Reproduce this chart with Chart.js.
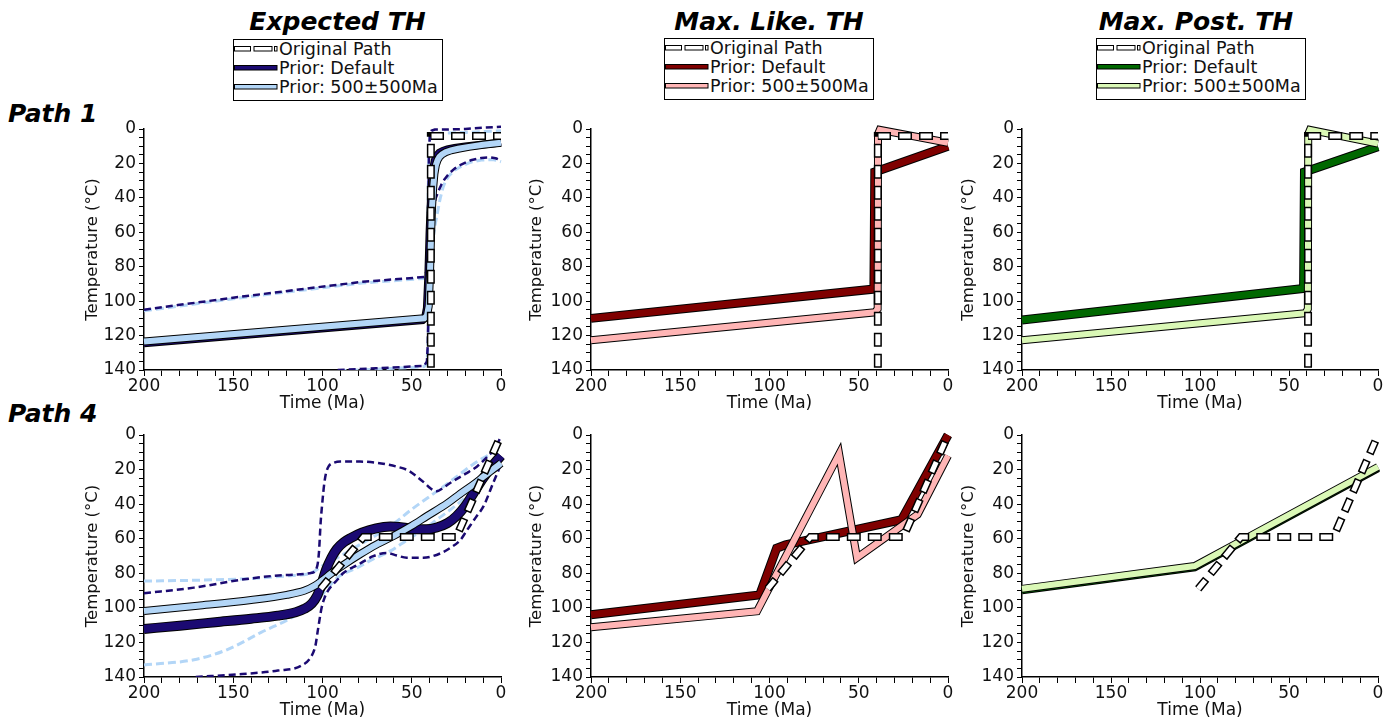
<!DOCTYPE html>
<html><head><meta charset="utf-8">
<script src="https://cdn.jsdelivr.net/npm/chart.js@4.4.1/dist/chart.umd.min.js"></script>
<style>
html,body{margin:0;padding:0;background:#fff;width:1398px;height:722px;overflow:hidden;font-family:'DejaVu Sans',sans-serif;}
.ttl{position:absolute;font:italic bold 25px 'DejaVu Sans';line-height:30px;white-space:nowrap;color:#000;text-align:center;width:400px;}
.rowlab{position:absolute;font:italic bold 25px 'DejaVu Sans';line-height:30px;white-space:nowrap;color:#000;}
.legend{position:absolute;border:1px solid #000;padding:0 4px 3px 0;background:#fff;font:17.5px 'DejaVu Sans';line-height:19px;color:#111;}
.legend .r{height:19px;white-space:nowrap;}
.legend svg{display:inline-block;vertical-align:top;}
.legend span{vertical-align:top;}
canvas{position:absolute;}
</style></head>
<body>
<div class="ttl" style="left:137.5px;top:7px">Expected TH</div>
<div class="ttl" style="left:569px;top:7px">Max. Like. TH</div>
<div class="ttl" style="left:996px;top:7px">Max. Post. TH</div>
<div class="rowlab" style="left:8px;top:99px">Path 1</div>
<div class="rowlab" style="left:8px;top:399px">Path 4</div>
<div id="leg0" class="legend" style="left:233px;top:39px"></div>
<div id="leg1" class="legend" style="left:664px;top:38px"></div>
<div id="leg2" class="legend" style="left:1096px;top:38px"></div>
<canvas id="c00"></canvas><canvas id="c01"></canvas><canvas id="c02"></canvas>
<canvas id="c10"></canvas><canvas id="c11"></canvas><canvas id="c12"></canvas>
<script>
// ---------- tick labels ----------
const timeLabels = [200, 150, 100, 50, 0];
const tempLabels = [0, 20, 40, 60, 80, 100, 120, 140];
const legendLabels = ['Original Path', 'Prior: Default', 'Prior: 500\u00b1500Ma'];

// ---------- Path 1 : original ----------
const p1OrigT = [39.3, 39.3, 0];
const p1OrigC = [150, 4, 4];

// Path 1, Expected TH
const e1DefT = [200, 44, 42.5, 41.5, 40.7, 40, 39.3, 38.6, 37.8, 37, 36, 34.5, 32.5, 30, 26, 20, 10, 0];
const e1DefC = [124.5, 111, 109.5, 104, 85, 60, 42, 30, 22, 18, 15.5, 13.8, 12.7, 11.8, 11, 10.2, 9, 7.8];
const e1WideT = [200, 43, 41.5, 40.5, 39.8, 39.2, 38.6, 38, 37.3, 36.5, 35.5, 34.5, 33, 31, 28, 24, 18, 10, 0];
const e1WideC = [123.5, 110, 108.5, 103, 85, 62, 45, 34, 26, 21, 18, 16.2, 14.7, 13.5, 12.4, 11.5, 10.4, 9.2, 8];
const e1DefHiT = [200, 181, 153, 116, 78, 43, 41.8, 41.2, 40.7, 40.3, 39.8, 39, 37, 30, 20, 10, 0];
const e1DefHiC = [105, 102.3, 98.4, 93.6, 88.8, 86, 83, 70, 40, 12, 3, 1, 0.3, 0.3, 0, -0.8, -1.3];
const e1WideHiT = [200, 181, 153, 116, 78, 43, 41.8, 41.2, 40.8, 40.4, 39.8, 39, 35, 20, 10, 0];
const e1WideHiC = [105.6, 103, 99, 94.2, 89.5, 86.8, 84, 70, 40, 12, 4, 3, 2.5, 2, 1.5, 1];
const e1DefLoT = [91.5, 70, 50, 43, 41.5, 41, 40.6, 40.2, 39.6, 38.8, 37.8, 36.5, 35, 33.5, 31.5, 29, 26, 22, 17, 11, 6, 3, 0];
const e1DefLoC = [140, 139, 138, 137.5, 135, 125, 100, 80, 63, 52, 45, 40, 36, 32.5, 29, 25.8, 23, 20.5, 18.2, 16.8, 16.5, 17, 18.3];
const e1WideLoT = [91, 70, 50, 43, 41.5, 40.9, 40.4, 39.9, 39.2, 38.3, 37, 35.5, 34, 32.5, 31, 29, 26, 22, 17, 11, 5, 2, 0];
const e1WideLoC = [140.5, 139.5, 138.5, 138, 136, 125, 100, 85, 73, 65, 56, 48, 40, 34, 30, 27, 24, 21.5, 19.3, 18, 17.8, 18.3, 19];

// Path 1, Max. Like. TH
const l1DefT = [200, 41.5, 41, 0];
const l1DefC = [110, 93, 25, 10];
const l1WideT = [200, 41, 39.4, 39.2, 38.2, 0];
const l1WideC = [122.7, 106.5, 104.5, 3, 0.5, 8];

// Path 1, Max. Post. TH
const m1DefT = [200, 41.8, 41.3, 0];
const m1DefC = [111, 92.6, 25, 10.3];
const m1WideT = [200, 40.8, 39.4, 39.2, 38.2, 0];
const m1WideC = [122.7, 107, 104.5, 3, 0.5, 8.5];

// ---------- Path 4 : original ----------
const p4OrigT = [101, 77, 25, 0];
const p4OrigC = [89, 59, 59, 0];

// Path 4, Expected TH
const e4DefT = [200, 180, 160, 140, 125, 115, 110, 106, 103, 100.5, 98, 95, 92, 88, 84, 78, 70, 62, 55, 48, 42, 36, 30, 25, 20, 15, 10, 5, 0];
const e4DefC = [112.2, 110.3, 108.3, 106.3, 104.5, 102.5, 100.5, 97.5, 93, 86, 78, 71, 66, 62, 59.5, 56.5, 54, 53, 53.5, 54.5, 54.5, 53.5, 51, 47, 41, 33, 25, 18, 12];
const e4WideT = [200, 170, 140, 120, 110, 104, 100, 95, 88, 79, 70, 60, 50, 41.6, 30, 22.8, 15, 9.7, 4, 0];
const e4WideC = [101.8, 98.8, 95.5, 92.5, 90, 87, 84, 80, 75, 69, 63.5, 58.3, 52.5, 47, 39.5, 34, 28.3, 24, 19.5, 16.3];
const e4DefHiT = [200, 172, 144, 120, 106, 103, 102, 101, 100, 99, 98, 96.5, 94, 90, 79, 70, 64, 58.4, 52, 47.2, 42, 39.7, 36, 33, 28.5, 20, 13.4, 8, 4.1, 0];
const e4DefHiC = [91.5, 88.3, 83.5, 81, 79.7, 76, 68, 50, 38, 28, 22, 18, 16.2, 15.4, 15.4, 16, 17, 18.3, 20.5, 24, 28.5, 30.7, 32.6, 31, 27.8, 22.5, 18.2, 13, 8.6, 1];
const e4WideHiT = [200, 170, 140, 120, 106, 100.6, 90, 80, 70, 62, 50, 36, 24.7, 15, 6, 0];
const e4WideHiC = [84.5, 84, 83, 81.5, 79.7, 76, 70, 64, 58, 52.8, 43, 32.6, 24, 16.5, 11, 7.7];
const e4DefLoT = [171, 145, 125, 112, 106.2, 104, 102.5, 100.5, 98.8, 97.5, 95, 91, 88.5, 80, 71.6, 64, 58.4, 52.8, 43.5, 34, 28, 23, 19, 14, 9.7, 4.1, 0];
const e4DefLoC = [140, 138.3, 136.3, 133.5, 128, 122, 112.3, 100, 94, 91, 87.4, 83, 80, 75, 70.1, 68.2, 69.7, 71, 71, 68.5, 65, 61, 55, 47.5, 41, 27, 17];
const e4WideLoT = [200, 172, 153, 134.4, 115.6, 102.5, 97, 91, 81, 72, 62.2, 53, 43.5, 34, 24.7, 13.4, 6, 2.2, 0];
const e4WideLoC = [133, 130, 124, 114.2, 104.7, 95, 88.5, 82, 77, 72, 67.2, 61, 54.7, 47.5, 40.3, 29.8, 22, 18.2, 16];

// Path 4, Max. Like. TH
const l4DefT = [200, 105.5, 96, 91, 26, 0];
const l4DefC = [104, 92.5, 65.5, 63.5, 49, 0];
const l4WideT = [200, 107, 61, 51, 17, 0];
const l4WideC = [111.2, 102, 11, 71, 46, 12];

// Path 4, Max. Post. TH
const m4DefT = [200, 103, 80, 0];
const m4DefC = [89.8, 76.6, 63.8, 19.2];
const m4WideT = [200, 103, 80, 0];
const m4WideC = [89, 75.8, 63, 18.5];

// ---------- colours ----------
const NAVY = '#1b0a72', LBLUE = '#b3d6f7';
const DRED = '#7f0000', PINK = '#ffb5b5';
const DGREEN = '#006800', LGREEN = '#daf8b6';

// ---------- layout ----------
const colL = [144, 591, 1022], colW = [357, 357, 356], yW = [60, 63, 62];
const rowT = [129, 435], rowH = [241, 242];
const PADT = 14, PADR = 16, XH = 42;

function P(ts, cs) { return ts.map((t, i) => ({ x: t, y: cs[i] })); }
const CLIP = { left: 2, top: 6, right: 6, bottom: 0 };

function solid(ts, cs, color, w, ord, smooth) {
  const base = { pointRadius: 0, fill: false, clip: CLIP, borderCapStyle: 'butt',
    borderJoinStyle: smooth ? 'round' : 'miter', tension: 0,
    cubicInterpolationMode: smooth ? 'monotone' : 'default' };
  return [
    Object.assign({}, base, { data: P(ts, cs), borderColor: '#000', borderWidth: w + 2, order: ord + 1 }),
    Object.assign({}, base, { data: P(ts, cs), borderColor: color, borderWidth: w, order: ord })
  ];
}
function dashed(ts, cs, color, w, dash, ord, smooth) {
  return { data: P(ts, cs), borderColor: color, borderWidth: w, borderDash: dash, pointRadius: 0,
    fill: false, clip: CLIP, order: ord, tension: 0, borderJoinStyle: 'round',
    cubicInterpolationMode: smooth ? 'monotone' : 'default', borderCapStyle: 'butt' };
}
function original(ts, cs) {
  const base = { pointRadius: 0, fill: false, clip: CLIP, tension: 0, borderCapStyle: 'butt', borderJoinStyle: 'miter' };
  return [
    Object.assign({}, base, { data: P(ts, cs), borderColor: '#000', borderWidth: 8, borderDash: [14, 7], borderDashOffset: 1.5, order: 1 }),
    Object.assign({}, base, { data: P(ts, cs), borderColor: '#fff', borderWidth: 5, borderDash: [11, 10], borderDashOffset: 0, order: 0 })
  ];
}

Chart.defaults.font.family = "'DejaVu Sans'";
Chart.defaults.color = '#111';

function makeChart(r, c, datasets) {
  const cv = document.getElementById('c' + r + c);
  const left = colL[c] - yW[c], top = rowT[r] - PADT;
  const w = yW[c] + colW[c] + PADR, h = PADT + rowH[r] + XH;
  cv.width = w; cv.height = h;
  cv.style.left = left + 'px'; cv.style.top = top + 'px';
  cv.style.width = w + 'px'; cv.style.height = h + 'px';
  new Chart(cv, {
    type: 'line',
    data: { datasets },
    options: {
      responsive: false, animation: false, devicePixelRatio: 1,
      layout: { padding: { top: PADT, right: PADR, left: 0, bottom: 0 } },
      plugins: { legend: { display: false }, tooltip: { enabled: false } },
      scales: {
        x: {
          type: 'linear', min: 0, max: 200, reverse: true,
          ticks: { stepSize: 10, autoSkip: false, maxRotation: 0, padding: 2, color: '#111',
            font: { size: 17, lineHeight: 1 }, callback: v => timeLabels.includes(v) ? String(v) : '' },
          grid: { display: true, drawOnChartArea: false, drawTicks: true, tickLength: 6, color: '#000', lineWidth: 1 },
          border: { display: true, color: '#000', width: 1.5 },
          title: { display: true, text: 'Time (Ma)', color: '#111', font: { size: 17, lineHeight: 1 }, padding: { top: 0, bottom: 0 } },
          afterFit: s => { s.height = XH; }
        },
        y: {
          type: 'linear', min: 0, max: 140, reverse: true,
          ticks: { stepSize: 5, autoSkip: false, padding: 3, color: '#111',
            font: { size: 17, lineHeight: 1 }, callback: v => tempLabels.includes(v) ? String(v) : '' },
          grid: { display: true, drawOnChartArea: false, drawTicks: true, tickLength: 5, color: '#000', lineWidth: 1 },
          border: { display: true, color: '#000', width: 1.5 },
          title: { display: true, text: 'Temperature (\u00b0C)', color: '#111', font: { size: 16.5, lineHeight: 1 }, padding: { top: 0, bottom: 0 } },
          afterFit: s => { s.width = yW[c]; }
        }
      }
    }
  });
}

// Row 1 (Path 1)
makeChart(0, 0, [
  dashed(e1DefHiT, e1DefHiC, NAVY, 2.5, [7, 4], 9, false),
  dashed(e1WideHiT, e1WideHiC, LBLUE, 3, [8, 4], 10, false),
  dashed(e1DefLoT, e1DefLoC, NAVY, 2.5, [7, 4], 9, false),
  dashed(e1WideLoT, e1WideLoC, LBLUE, 3, [8, 4], 10, false),
  ...solid(e1DefT, e1DefC, NAVY, 6, 4, false),
  ...solid(e1WideT, e1WideC, LBLUE, 6, 2, false),
  ...original(p1OrigT, p1OrigC)
]);
makeChart(0, 1, [
  ...solid(l1DefT, l1DefC, DRED, 7, 4, false),
  ...solid(l1WideT, l1WideC, PINK, 6, 2, false),
  ...original(p1OrigT, p1OrigC)
]);
makeChart(0, 2, [
  ...solid(m1DefT, m1DefC, DGREEN, 7, 4, false),
  ...solid(m1WideT, m1WideC, LGREEN, 6, 2, false),
  ...original(p1OrigT, p1OrigC)
]);
// Row 2 (Path 4)
makeChart(1, 0, [
  dashed(e4DefHiT, e4DefHiC, NAVY, 2.5, [7, 4], 9, true),
  dashed(e4WideHiT, e4WideHiC, LBLUE, 3, [8, 4], 10, true),
  dashed(e4DefLoT, e4DefLoC, NAVY, 2.5, [7, 4], 9, true),
  dashed(e4WideLoT, e4WideLoC, LBLUE, 3, [8, 4], 10, true),
  ...solid(e4DefT, e4DefC, NAVY, 8, 4, true),
  ...solid(e4WideT, e4WideC, LBLUE, 6, 2, true),
  ...original(p4OrigT, p4OrigC)
]);
makeChart(1, 1, [
  ...solid(l4DefT, l4DefC, DRED, 7, 4, false),
  ...solid(l4WideT, l4WideC, PINK, 6, 2, false),
  ...original(p4OrigT, p4OrigC)
]);
makeChart(1, 2, [
  ...solid(m4DefT, m4DefC, DGREEN, 6, 4, false),
  ...solid(m4WideT, m4WideC, LGREEN, 6, 2, false),
  ...original(p4OrigT, p4OrigC)
]);

// ---------- legends ----------
const legendColors = [[NAVY, LBLUE], [DRED, PINK], [DGREEN, LGREEN]];
function legendHTML(cols) {
  const sym0 = '<svg width="45" height="19"><rect x="0.5" y="6.5" width="16" height="4.5" fill="#fff" stroke="#000"/>' +
    '<rect x="20" y="6.5" width="18" height="4.5" fill="#fff" stroke="#000"/>' +
    '<rect x="40.5" y="6.5" width="2.5" height="4.5" fill="#fff" stroke="#000"/></svg>';
  const bar = col => '<svg width="45" height="19"><rect x="0.5" y="6.5" width="42.5" height="4.5" fill="' + col + '" stroke="#000"/></svg>';
  return '<div class="r">' + sym0 + '<span>' + legendLabels[0] + '</span></div>' +
    '<div class="r">' + bar(cols[0]) + '<span>' + legendLabels[1] + '</span></div>' +
    '<div class="r">' + bar(cols[1]) + '<span>' + legendLabels[2] + '</span></div>';
}
for (let i = 0; i < 3; i++) document.getElementById('leg' + i).innerHTML = legendHTML(legendColors[i]);
</script>
</body></html>
